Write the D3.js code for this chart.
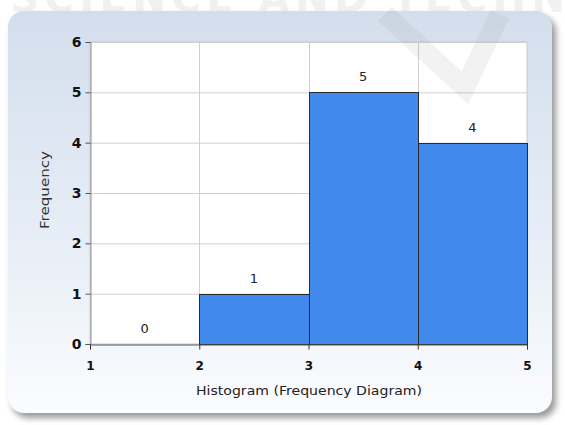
<!DOCTYPE html>
<html><head><meta charset="utf-8">
<script src="https://cdn.jsdelivr.net/npm/d3@7"></script>
<style>body{margin:0;background:#fff;}svg{display:block;}</style>
</head><body>
<script>
const binEdges = [1, 2, 3, 4, 5];
const frequencies = [0, 1, 5, 4];
const yTicks = [0, 1, 2, 3, 4, 5, 6];
const xTicks = [1, 2, 3, 4, 5];
const xTitle = "Histogram (Frequency Diagram)";
const yTitle = "Frequency";

const W = 565, H = 425;
const svg = d3.select("body").append("svg").attr("width", W).attr("height", H);
const defs = svg.append("defs");
const grad = defs.append("linearGradient").attr("id","bg").attr("x1",0).attr("y1",0).attr("x2",0).attr("y2",1);
grad.append("stop").attr("offset","0%").attr("stop-color","#d3deed");
grad.append("stop").attr("offset","55%").attr("stop-color","#e6edf6");
grad.append("stop").attr("offset","100%").attr("stop-color","#fbfcfe");
const blur = defs.append("filter").attr("id","sh").attr("x","-5%").attr("y","-5%").attr("width","115%").attr("height","115%");
blur.append("feGaussianBlur").attr("stdDeviation",3);

// watermark text
svg.append("text").attr("x", 10).attr("y", 12).attr("font-family","DejaVu Sans").attr("font-weight","bold")
  .attr("font-size", 40).attr("fill","#f1f1f1").attr("textLength", 555).text("SCIENCE AND TECHN");

// panel shadow and panel
svg.append("rect").attr("x",12).attr("y",16).attr("width",544).attr("height",402).attr("rx",16)
  .attr("fill","#9a9a9a").attr("filter","url(#sh)");
svg.append("rect").attr("x",8).attr("y",11).attr("width",544).attr("height",402).attr("rx",16)
  .attr("fill","url(#bg)");

const m = {l:90, r:527, t:42, b:344};
const x = d3.scaleLinear().domain([1,5]).range([m.l, m.r]);
const y = d3.scaleLinear().domain([0,6]).range([m.b, m.t]);

svg.append("rect").attr("x",m.l).attr("y",m.t).attr("width",m.r-m.l).attr("height",m.b-m.t)
  .attr("fill","#fff").attr("stroke","#c8c8c8");

// grid
svg.append("g").selectAll("line.h").data(yTicks.slice(1)).join("line")
  .attr("x1",m.l).attr("x2",m.r).attr("y1",d=>y(d)+0.5).attr("y2",d=>y(d)+0.5)
  .attr("stroke","#cfcfcf");
svg.append("g").selectAll("line.v").data(xTicks.slice(1,-1)).join("line")
  .attr("y1",m.t).attr("y2",m.b).attr("x1",d=>Math.round(x(d))+0.5).attr("x2",d=>Math.round(x(d))+0.5)
  .attr("stroke","#cfcfcf");

const bins = frequencies.map((f,i)=>({x0:binEdges[i], x1:binEdges[i+1], f}));
svg.append("g").selectAll("rect").data(bins.filter(d=>d.f>0)).join("rect")
  .attr("x",d=>Math.round(x(d.x0))+0.5).attr("width",d=>Math.round(x(d.x1))-Math.round(x(d.x0)))
  .attr("y",d=>Math.round(y(d.f))+0.5).attr("height",d=>y(0)-Math.round(y(d.f)))
  .attr("fill","#4189ea").attr("stroke","#2a2a2a").attr("stroke-width",1);

svg.append("g").selectAll("text").data(bins).join("text")
  .attr("x",d=>x((d.x0+d.x1)/2)).attr("y",d=>y(d.f)-11)
  .attr("text-anchor","middle").attr("font-family","DejaVu Sans").attr("font-size",13).attr("fill","#222")
  .text(d=>d.f);

// y axis
const ya = svg.append("g").attr("transform",`translate(${m.l+0.5},0)`)
  .call(d3.axisLeft(y).tickValues(yTicks).tickSize(5).tickFormat(d3.format("d")));
ya.select(".domain").attr("stroke","#888");
ya.selectAll(".tick line").attr("stroke","#555");
ya.selectAll("text").attr("font-family","DejaVu Sans").attr("font-weight","bold").attr("font-size",14).attr("fill","#111").attr("dx",-1);

// x axis
const xa = svg.append("g").attr("transform",`translate(0,${m.b+0.5})`)
  .call(d3.axisBottom(x).tickValues(xTicks).tickSize(5).tickFormat(d3.format("d")));
xa.select(".domain").attr("stroke","#555");
xa.selectAll(".tick line").attr("stroke","#333");
xa.selectAll("text").attr("font-family","DejaVu Sans").attr("font-weight","bold").attr("font-size",12).attr("fill","#111").attr("dy","1.45em");

svg.append("text").attr("x",309).attr("y",395).attr("text-anchor","middle")
  .attr("font-family","DejaVu Sans").attr("font-size",13).attr("fill","#222")
  .attr("textLength",226).attr("lengthAdjust","spacingAndGlyphs").text(xTitle);
svg.append("text").attr("transform",`translate(49,${(m.t+m.b)/2-3}) rotate(-90)`).attr("text-anchor","middle")
  .attr("font-family","DejaVu Sans").attr("font-size",13).attr("fill","#333")
  .attr("textLength",78).attr("lengthAdjust","spacingAndGlyphs").text(yTitle);

// watermark V over everything, faint
svg.append("path").attr("d","M385,14 L465,88 L500,14").attr("fill","none")
  .attr("stroke","#9a9a9a").attr("stroke-opacity",0.13).attr("stroke-width",20);
</script>
</body></html>
